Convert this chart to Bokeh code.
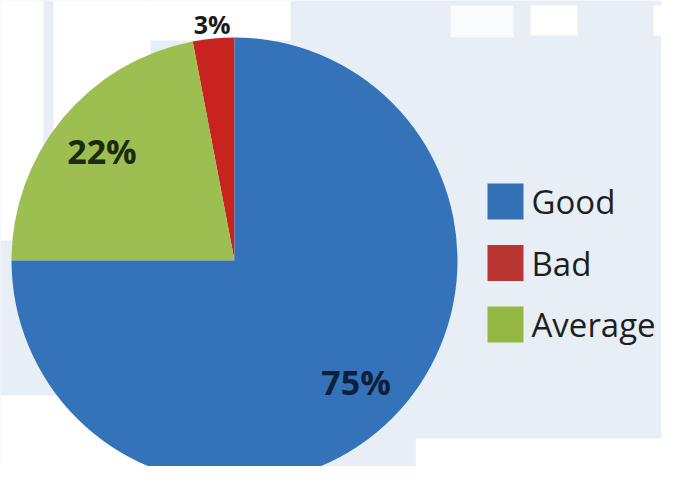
import math
from bokeh.plotting import figure
from bokeh.models import Range1d, ColumnDataSource
from bokeh.embed import file_html
from bokeh.resources import INLINE
from bokeh.core.properties import value

# ---- data ----
categories = ["Good", "Bad", "Average"]
values = [75, 3, 22]
labels = ["75%", "3%", "22%"]
pie_colors = ["#3472ba", "#c9231f", "#9dbf52"]
legend_colors = ["#3470b6", "#b93632", "#94b843"]
label_colors = ["#0e1f3d", "#1a1a1a", "#1b2a10"]
# slices are laid out counter-clockwise from 12 o'clock in this order
draw_order = ["Bad", "Average", "Good"]

W, H = 677, 482


def Y(py):
    return H - py


p = figure(width=661, height=466, x_range=Range1d(0, 661), y_range=Range1d(Y(466), Y(0)),
           toolbar_location=None, output_backend="svg", min_border=0,
           background_fill_color="#e7eef6", border_fill_color="#e7eef6",
           outline_line_color=None)
p.axis.visible = False
p.grid.visible = False

# ---- background texture (decorative) ----
bg = dict(left=[0, 53, 150, 0, 415, 530, 653, 450],
          right=[43, 150, 290, 180, 677, 577, 677, 513],
          top=[Y(0), Y(0), Y(0), Y(395), Y(438), Y(5), Y(5), Y(5)],
          bottom=[Y(240), Y(260), Y(40), Y(482), Y(468), Y(35), Y(35), Y(37)],
          alpha=[1, 1, 1, 1, 1, 1, 1, 0.75])
p.quad(source=ColumnDataSource(bg), left="left", right="right", top="top", bottom="bottom",
       fill_color="white", line_color=None, fill_alpha="alpha")

# ---- pie ----
cx, cy, R = 234, Y(260), 223
total = sum(values)
start, end, cols, mids, vals, labs, lcols = [], [], [], [], [], [], []
acc = 0.0
for name in draw_order:
    i = categories.index(name)
    a0 = math.pi / 2 + acc / total * 2 * math.pi
    acc += values[i]
    a1 = math.pi / 2 + acc / total * 2 * math.pi
    start.append(a0)
    end.append(a1)
    cols.append(pie_colors[i])
    mids.append((a0 + a1) / 2)
    vals.append(values[i])
    labs.append(labels[i])
    lcols.append(label_colors[i])

p.wedge(x=cx, y=cy, radius=R, start_angle=start, end_angle=end,
        fill_color=cols, line_color=None)

# ---- slice labels ----
for m, v, lab, lc in zip(mids, vals, labs, lcols):
    if v < 5:
        r, fs, fw = R + 15, "25px", "bold"
    else:
        r, fs, fw = 172, "34px", "bold"
    p.text(x=[cx + r * math.cos(m)], y=[cy + r * math.sin(m)], text=[lab],
           text_align="center", text_baseline="middle", text_font=value("Open Sans"),
           text_font_size=fs, text_font_style=fw, text_color=lc)

# ---- legend ----
lx = [505] * len(categories)
ly = [Y(201 + 61.5 * i) for i in range(len(categories))]
p.rect(x=lx, y=ly, width=36, height=36, fill_color=legend_colors, line_color=None)
p.text(x=[531] * len(categories), y=ly, text=categories, text_align="left",
       text_baseline="middle", text_font=value("Open Sans"), text_font_size="33px",
       text_color="#1e1e1e")

open("out.html", "w").write(file_html(p, INLINE))
